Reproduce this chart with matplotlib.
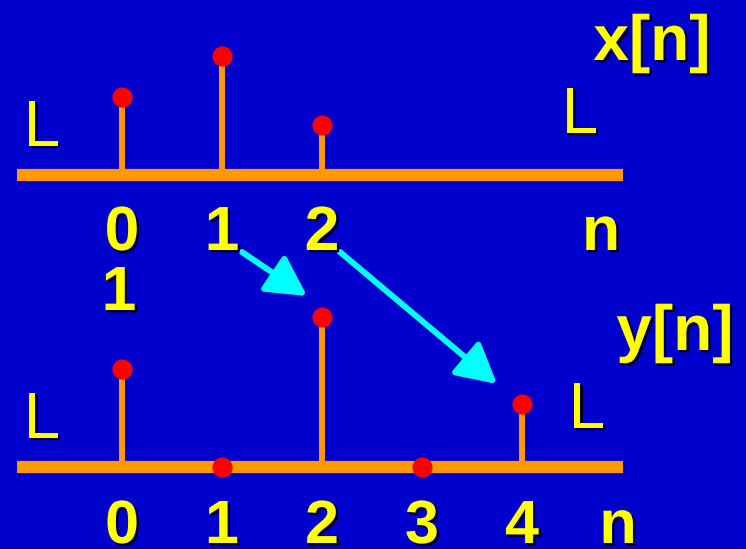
import matplotlib
matplotlib.use('Agg')
import matplotlib.pyplot as plt
import matplotlib.patheffects as pe
from matplotlib.patches import FancyArrowPatch

# data
n_x = [0, 1, 2]
x_vals = [1.55, 2.38, 1.0]
n_y = [0, 1, 2, 3, 4]
y_vals = [1.55, 0, 2.38, 0, 1.0]
x_ticks = ['0', '1', '2']
y_ticks = ['0', '1', '2', '3', '4']

BG = '#0000CC'
ORANGE = '#FF9900'
YELLOW = '#FFFF00'
CYAN = '#00FFFF'
W, H = 746, 549
shadow = [pe.withSimplePatchShadow(offset=(1.6, -1.6), shadow_rgbFace='black', alpha=1.0)]
bold = dict(family='Liberation Sans', weight='bold', color=YELLOW, path_effects=shadow)
thin = dict(family='Liberation Sans', weight='normal', color=YELLOW, path_effects=shadow)

fig = plt.figure(figsize=(W / 100, H / 100), dpi=100)
fig.patch.set_facecolor(BG)

# pixel overlay for decorations
ov = fig.add_axes([0, 0, 1, 1])
ov.set_xlim(0, W)
ov.set_ylim(H, 0)
ov.axis('off')


def stem_axes(base_px, scale):
    ax = fig.add_axes([0, 0, 1, 1])
    ax.set_xlim(-122 / 100, (W - 122) / 100)
    ax.set_ylim((base_px - H) / scale, base_px / scale)
    ax.axis('off')
    ax.patch.set_alpha(0)
    ax.hlines(0, -1.05, 5.01, color=ORANGE, lw=8.8, zorder=1)
    return ax


ax1 = stem_axes(175, 50)
ax1.vlines(n_x, 0, x_vals, color=ORANGE, lw=4.3, zorder=2)
ax1.plot(n_x, x_vals, 'o', color='red', ms=13.5, mec='red', zorder=3)
for n, t in zip(n_x, x_ticks):
    ax1.text(n, (175 - 250) / 50, t, fontsize=45, ha='center', va='baseline', **bold)

ax2 = stem_axes(467, 63)
ax2.vlines(n_y, 0, y_vals, color=ORANGE, lw=4.3, zorder=2)
ax2.plot(n_y, y_vals, 'o', color='red', ms=13.5, mec='red', zorder=3)
for n, t in zip(n_y, y_ticks):
    ax2.text(n, (467 - 543) / 63, t, fontsize=44, ha='center', va='baseline', **bold)

# labels
ov.text(601, 250, 'n', fontsize=45, ha='center', va='baseline', **bold)
ov.text(119, 310, '1', fontsize=45, ha='center', va='baseline', **bold)
ov.text(618, 543, 'n', fontsize=44, ha='center', va='baseline', **bold)
ov.text(652, 60, 'x[n]', fontsize=46, ha='center', va='baseline', **bold)
ov.text(675, 350, 'y[n]', fontsize=46, ha='center', va='baseline', **bold)

for x, y in [(42, 146), (580, 133), (42, 438), (587, 428)]:
    ov.text(x, y, 'L', fontsize=47, ha='center', va='baseline', **thin)

for (x0, y0), (x1, y1) in [((242, 252), (307, 296)), ((340, 252), (497, 384))]:
    ov.add_patch(FancyArrowPatch((x0, y0), (x1, y1), arrowstyle='-|>,head_length=2.4,head_width=1.3',
                                 mutation_scale=10, color=CYAN, lw=4.3, shrinkA=0, shrinkB=0))

fig.savefig('out.png', dpi=100, facecolor=BG)
